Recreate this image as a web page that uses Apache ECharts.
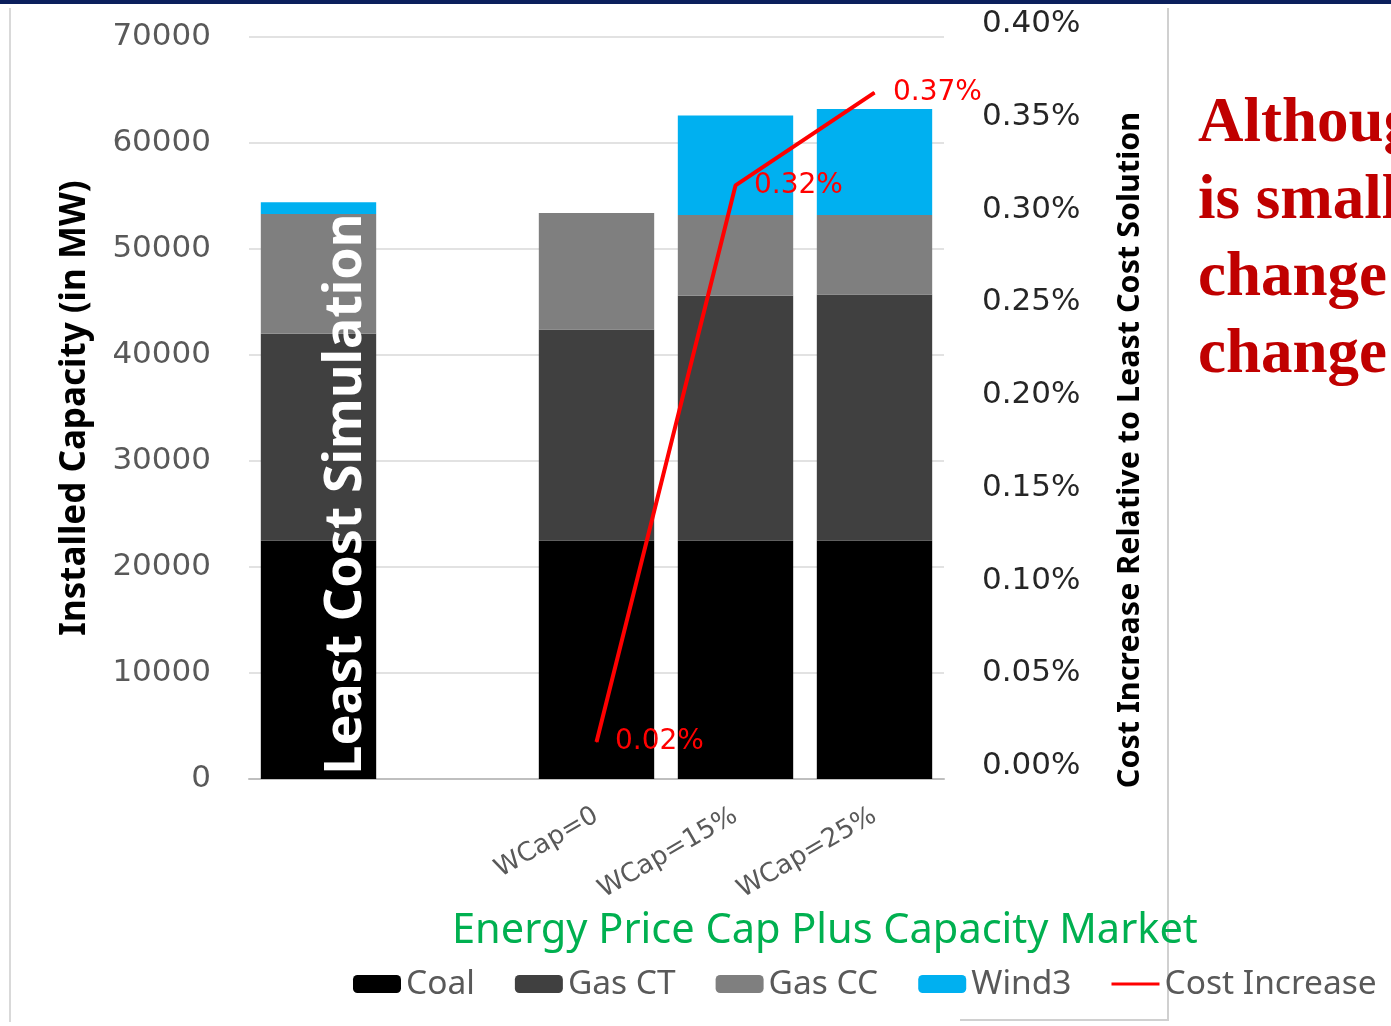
<!DOCTYPE html>
<html>
<head>
<meta charset="utf-8">
<script src="https://cdn.jsdelivr.net/npm/echarts@6/dist/echarts.min.js"></script>
<style>
html,body{margin:0;padding:0;background:#fff;}
#main{width:1391px;height:1026px;}
</style>
</head>
<body>
<div id="main"></div>
<script>
// ---- data ----
var categories = ['', '', 'WCap=0', 'WCap=15%', 'WCap=25%'];
var coal   = [22500, null, 22500, 22500, 22500];
var gasCT  = [19500, null, 19900, 23100, 23200];
var gasCC  = [11300, null, 11000, 7600, 7500];
var wind3  = [1100,  null, null,  9400, 10000];
var costIncrease = [null, null, 0.02, 0.32, 0.37];
var leftTicks = ['0', '10000', '20000', '30000', '40000', '50000', '60000', '70000'];
var rightTicks = ['0.00%','0.05%','0.10%','0.15%','0.20%','0.25%','0.30%','0.35%','0.40%'];
var noteLines = ['Althoug', 'is small', 'change', 'change'];

var chart = echarts.init(document.getElementById('main'));
var tickFont = 'DejaVu Sans';
var calFont = 'Noto Sans, sans-serif';

var graphics = [
  {type:'rect', shape:{x:0,y:0,width:1391,height:4}, style:{fill:'#0b1f5c'}, silent:true, z:100},
  {type:'line', shape:{x1:10,y1:8,x2:10,y2:1022}, style:{stroke:'#d9d9d9',lineWidth:2}, silent:true},
  {type:'line', shape:{x1:1168,y1:8,x2:1168,y2:1021}, style:{stroke:'#d0d0d0',lineWidth:2}, silent:true},
  {type:'line', shape:{x1:960,y1:1020,x2:1168,y2:1020}, style:{stroke:'#d0d0d0',lineWidth:2}, silent:true},
  {type:'text', x:346, y:494, rotation:Math.PI/2, z:100,
   style:{text:'Least Cost Simulation', fill:'#ffffff', font:'bold 52px ' + calFont, textAlign:'center', textVerticalAlign:'middle'}},
  {type:'text', x:1130, y:450, rotation:Math.PI/2, z:100,
   style:{text:'Cost Increase Relative to Least Cost Solution', fill:'#000000', font:'bold 30.5px ' + calFont, textAlign:'center', textVerticalAlign:'middle'}}
];
noteLines.forEach(function(t, i){
  graphics.push({type:'text', x:1198, y:125 + i*77, z:100,
    style:{text:t, fill:'#c00000', font:'bold 63px Liberation Serif, DejaVu Serif, serif', textAlign:'left', textVerticalAlign:'middle'}});
});

var barBase = {type:'bar', stack:'cap', barWidth:'83%', yAxisIndex:0};

chart.setOption({
  animation:false,
  backgroundColor:'#ffffff',
  title:{
    text:'Energy Price Cap Plus Capacity Market',
    left:447, top:905,
    textStyle:{color:'#00b050', fontSize:41.5, fontWeight:'normal', fontFamily:calFont}
  },
  legend:{
    left:348, top:962, width:1200,
    itemWidth:48, itemHeight:18, itemGap:40,
    textStyle:{color:'#595959', fontSize:33.5, fontFamily:calFont},
    data:['Coal','Gas CT','Gas CC','Wind3',
      {name:'Cost Increase', icon:'path://M0,0L50,0L50,3L0,3Z'}]
  },
  grid:{left:249, right:447, top:37, bottom:247, containLabel:false},
  xAxis:{
    type:'category', data:categories,
    axisLine:{show:true, lineStyle:{color:'#bfbfbf', width:2}},
    axisTick:{show:false},
    axisLabel:{rotate:30, margin:35, color:'#595959', fontSize:26, fontFamily:tickFont, interval:0}
  },
  yAxis:[{
    type:'value', min:0, max:70000, interval:10000,
    name:'Installed Capacity (in MW)', nameLocation:'middle', nameGap:156, nameRotate:90,
    nameTextStyle:{color:'#000', fontSize:35, fontWeight:'bold', fontFamily:calFont},
    axisLine:{show:false}, axisTick:{show:false},
    axisLabel:{color:'#595959', fontSize:31, fontFamily:tickFont, margin:38,
      formatter:function(v){ return leftTicks[Math.round(v/10000)]; }},
    splitLine:{lineStyle:{color:'#d9d9d9', width:1.5}}
  },{
    type:'value', min:0, max:0.40, interval:0.05, position:'right',
    axisLine:{show:false}, axisTick:{show:false},
    axisLabel:{color:'#262626', fontSize:31, fontFamily:tickFont, margin:38, verticalAlign:'bottom', lineHeight:26,
      formatter:function(v){ return rightTicks[Math.round(v/0.05)]; }},
    splitLine:{show:false}
  }],
  series:[
    Object.assign({name:'Coal', data:coal, itemStyle:{color:'#000000'}}, barBase),
    Object.assign({name:'Gas CT', data:gasCT, itemStyle:{color:'#404040'}}, barBase),
    Object.assign({name:'Gas CC', data:gasCC, itemStyle:{color:'#7f7f7f'}}, barBase),
    Object.assign({name:'Wind3', data:wind3, itemStyle:{color:'#00b0f0'}}, barBase),
    {name:'Cost Increase', type:'line', yAxisIndex:1, data:costIncrease,
     symbol:'circle', symbolSize:1, showSymbol:true,
     lineStyle:{color:'#ff0000', width:4}, itemStyle:{color:'#ff0000'},
     label:{show:true, position:'right', distance:18, color:'#ff0000', fontSize:28, fontFamily:tickFont,
       formatter:function(p){ return p.value.toFixed(2) + '%'; }},
     z:5}
  ],
  graphic:graphics
});
</script>
</body>
</html>
